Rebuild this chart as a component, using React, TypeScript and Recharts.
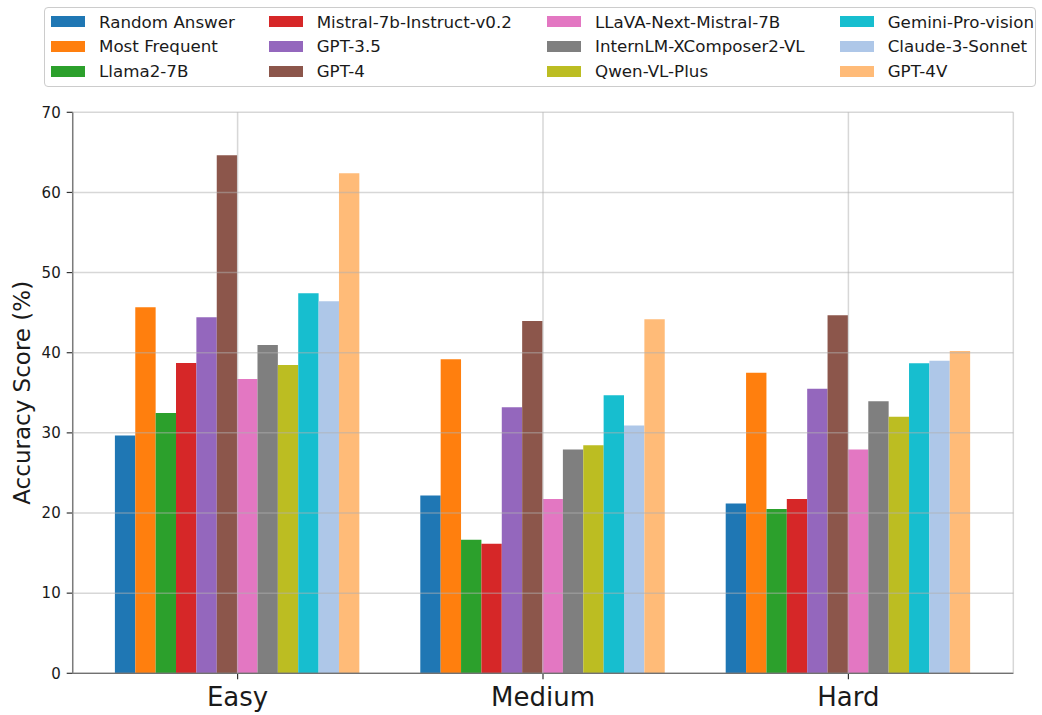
import React from 'react';
import { BarChart, Bar, XAxis, YAxis, CartesianGrid, Legend } from 'recharts';

const categories = ['Easy', 'Medium', 'Hard'];
const yTicks = [0, 10, 20, 30, 40, 50, 60, 70];

const randomAnswer = [29.67, 22.2, 21.2];
const mostFrequent = [45.68, 39.2, 37.5];
const llama2 = [32.49, 16.67, 20.5];
const mistral = [38.71, 16.17, 21.74];
const gpt35 = [44.44, 33.2, 35.5];
const gpt4 = [64.65, 43.97, 44.68];
const llava = [36.72, 21.74, 27.93];
const internlm = [40.95, 27.93, 33.96];
const qwen = [38.46, 28.47, 32.0];
const gemini = [47.43, 34.7, 38.7];
const claude = [46.43, 30.92, 38.99];
const gpt4v = [62.41, 44.18, 40.23];

const seriesNames = [
  'Random Answer', 'Most Frequent', 'Llama2-7B',
  'Mistral-7b-Instruct-v0.2', 'GPT-3.5', 'GPT-4',
  'LLaVA-Next-Mistral-7B', 'InternLM-XComposer2-VL', 'Qwen-VL-Plus',
  'Gemini-Pro-vision', 'Claude-3-Sonnet', 'GPT-4V',
];
const seriesValues = [
  randomAnswer, mostFrequent, llama2,
  mistral, gpt35, gpt4,
  llava, internlm, qwen,
  gemini, claude, gpt4v,
];
const seriesColors = [
  '#1f77b4', '#ff7f0e', '#2ca02c',
  '#d62728', '#9467bd', '#8c564b',
  '#e377c2', '#7f7f7f', '#bcbd22',
  '#17becf', '#aec7e8', '#ffbb78',
];

const data = categories.map((c, ci) => {
  const row: any = { category: c };
  seriesNames.forEach((n, si) => { row['s' + si] = seriesValues[si][ci]; });
  return row;
});

const FONT = '"DejaVu Sans", sans-serif';

// legend layout (column-major, 4 columns x 3 rows)
const colSwatchLeft = [7.3, 225.3, 502.7, 796];
const colTextLeft = [55, 272.7, 551, 843.7];
const rowCenter = [14.4, 39.2, 64.2];

const renderLegend = () => (
  <div style={{
    position: 'relative', width: 992, height: 80, boxSizing: 'border-box',
    border: '1px solid #cccccc', borderRadius: 4, background: '#fff',
  }}>
    {seriesNames.map((name, i) => {
      const col = Math.floor(i / 3);
      const row = i % 3;
      return (
        <React.Fragment key={name}>
          <div style={{
            position: 'absolute', left: colSwatchLeft[col] - 1, top: rowCenter[row] - 5.5 - 1,
            width: 34, height: 11, background: seriesColors[i],
          }} />
          <div style={{
            position: 'absolute', left: colTextLeft[col] - 1, top: rowCenter[row] - 12 - 1,
            height: 24, lineHeight: '24px', fontFamily: FONT, fontSize: 16.7, color: '#1a1a1a',
            whiteSpace: 'nowrap',
          }}>{name}</div>
        </React.Fragment>
      );
    })}
  </div>
);

const YLabel = (props: any) => {
  const vb = props.viewBox || { x: 0, y: 0, width: 0, height: 0 };
  const cx = 30;
  const cy = vb.y + vb.height / 2;
  return (
    <text x={cx} y={cy} transform={`rotate(-90 ${cx} ${cy})`} textAnchor="middle"
      fontFamily={FONT} fontSize={23} fill="#1a1a1a">Accuracy Score (%)</text>
  );
};

export default function App() {
  return (
    <div style={{ position: 'absolute', left: 0, top: 0, width: 1042, height: 715, background: '#fff' }}>
      <BarChart
        width={1042}
        height={715}
        data={data}
        margin={{ top: 112.3, right: 28.7, bottom: 1.7, left: 12.7 }}
        barGap={0}
        barCategoryGap={30.5}
        barSize={20.37}
      >
        {seriesNames.map((name, i) => (
          <Bar key={name} dataKey={'s' + i} name={name} fill={seriesColors[i]} isAnimationActive={false} />
        ))}
        <CartesianGrid stroke="#b0b0b0" strokeOpacity={0.5} strokeWidth={1.5} {...({ zIndex: 650 } as any)} />
        <XAxis
          dataKey="category"
          interval={0}
          padding={{ left: 12.2, right: 12.2 }}
          height={40}
          tickSize={6}
          tickMargin={8}
          tick={{ fontFamily: FONT, fontSize: 26, fill: '#1a1a1a' }}
          axisLine={{ stroke: '#333', strokeWidth: 1.2 }}
          tickLine={{ stroke: '#333', strokeWidth: 1.2 }}
        />
        <XAxis
          xAxisId="top"
          orientation="top"
          dataKey="category"
          height={0}
          tick={false}
          tickLine={false}
          axisLine={{ stroke: '#333', strokeWidth: 1.2 }}
        />
        <YAxis
          domain={[0, 70]}
          ticks={yTicks}
          width={60}
          tickSize={6}
          tickMargin={6}
          tick={{ fontFamily: FONT, fontSize: 15, fill: '#1a1a1a' }}
          axisLine={{ stroke: '#333', strokeWidth: 1.2 }}
          tickLine={{ stroke: '#333', strokeWidth: 1.2 }}
          label={(p: any) => <YLabel {...p} />}
        />
        <YAxis
          yAxisId="right"
          orientation="right"
          domain={[0, 70]}
          width={0}
          tick={false}
          tickLine={false}
          axisLine={{ stroke: '#333', strokeWidth: 1.2 }}
        />
        <Legend
          layout="horizontal"
          verticalAlign="middle"
          align="center"
          content={renderLegend}
          wrapperStyle={{ top: 7.3, left: 44, width: 992, height: 80 }}
        />
      </BarChart>
    </div>
  );
}
